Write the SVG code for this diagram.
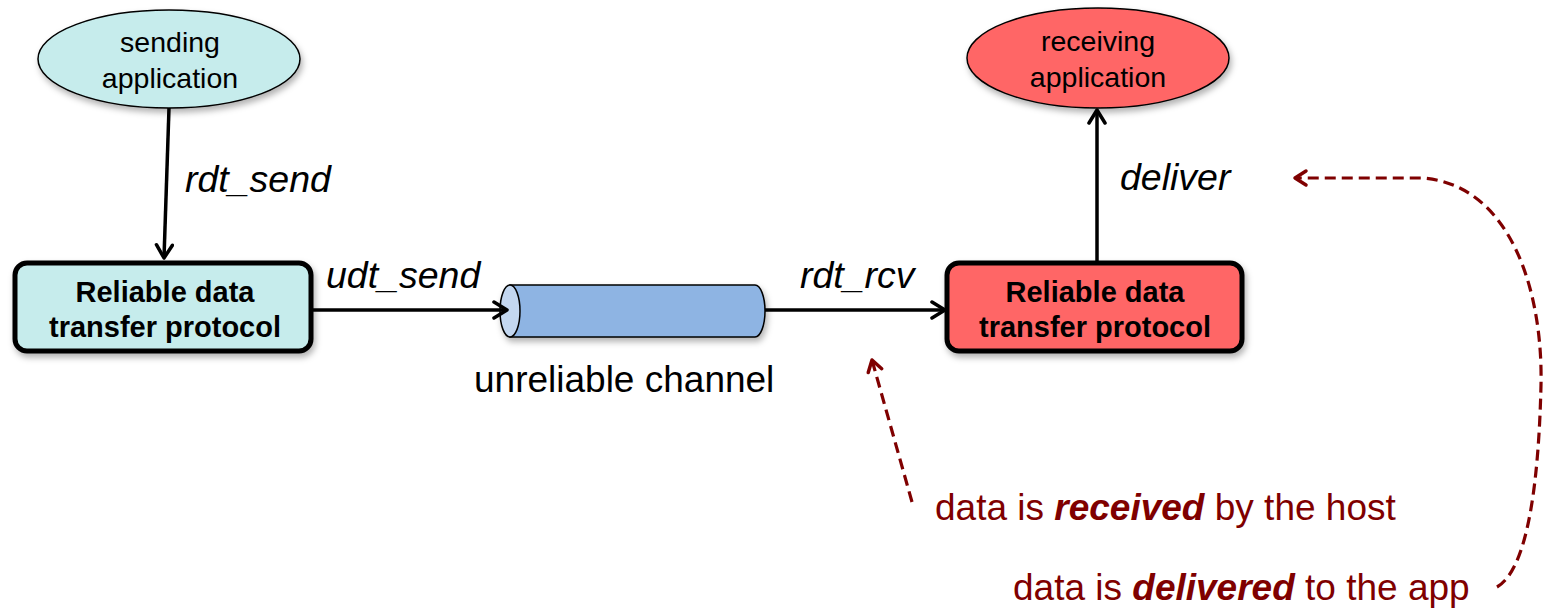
<svg xmlns="http://www.w3.org/2000/svg" width="1543" height="611" viewBox="0 0 1543 611">
  <style>
    text { font-family: "Liberation Sans", Arial, sans-serif; }
    .app { font-size: 28.5px; fill: #000; text-anchor: middle; }
    .proto { font-size: 29px; font-weight: bold; fill: #000; text-anchor: middle; }
    .call { font-size: 37.5px; font-style: italic; fill: #000; }
    .plain { font-size: 37px; fill: #000; }
    .note { font-size: 37px; fill: #7f0000; }
    .note tspan.em { font-weight: bold; font-style: italic; }
    .edge { fill: none; stroke: #000; stroke-width: 3.5; marker-end: url(#arrow); }
    .hint { fill: none; stroke: #7f0000; stroke-width: 3.2; stroke-dasharray: 11 6; marker-end: url(#arrowRed); }
    .box { stroke: #000; stroke-width: 5; }
    .oval { stroke: #000; stroke-width: 1.5; }
  </style>
  <defs>
    <marker id="arrow" viewBox="0 0 20 20" refX="17" refY="10" markerWidth="20" markerHeight="20" markerUnits="userSpaceOnUse" orient="auto">
      <path d="M4,2 L17,10 L4,18" fill="none" stroke="#000" stroke-width="3.5" stroke-linecap="round" stroke-linejoin="round"/>
    </marker>
    <marker id="arrowRed" viewBox="0 0 20 20" refX="16" refY="10" markerWidth="20" markerHeight="20" markerUnits="userSpaceOnUse" orient="auto">
      <path d="M5,3 L16,10 L5,17" fill="none" stroke="#7f0000" stroke-width="3.5" stroke-linecap="round" stroke-linejoin="round"/>
    </marker>
    <filter id="shadow" x="-10%" y="-10%" width="125%" height="135%">
      <feDropShadow dx="2" dy="4" stdDeviation="3" flood-color="#000" flood-opacity="0.3"/>
    </filter>
  </defs>

  <g id="sending-app">
    <ellipse class="oval" cx="169" cy="59" rx="131" ry="49" fill="#c6ecec" filter="url(#shadow)"/>
    <text class="app" x="170" y="52">sending</text>
    <text class="app" x="170" y="88">application</text>
  </g>

  <g id="receiving-app">
    <ellipse class="oval" cx="1098" cy="58" rx="131" ry="50" fill="#ff6666" filter="url(#shadow)"/>
    <text class="app" x="1098" y="51">receiving</text>
    <text class="app" x="1098" y="87">application</text>
  </g>

  <g id="sender-rdt">
    <rect class="box" x="15" y="263" width="296" height="88" rx="12" fill="#c6ecec" filter="url(#shadow)"/>
    <text class="proto" x="165" y="302">Reliable data</text>
    <text class="proto" x="165" y="337">transfer protocol</text>
  </g>

  <g id="receiver-rdt">
    <rect class="box" x="947" y="263" width="295" height="88" rx="12" fill="#ff6666" filter="url(#shadow)"/>
    <text class="proto" x="1095" y="302">Reliable data</text>
    <text class="proto" x="1095" y="337">transfer protocol</text>
  </g>

  <g id="channel">
    <g filter="url(#shadow)">
      <path d="M510,285 L755,285 A10,26 0 0 1 755,337 L510,337 Z" fill="#8eb4e3" stroke="#000" stroke-width="1.5"/>
      <ellipse cx="510" cy="311" rx="10" ry="26" fill="#c3d7f0" stroke="#000" stroke-width="1.5"/>
    </g>
    <text class="plain" x="474" y="392">unreliable channel</text>
  </g>

  <g id="connectors">
    <path class="edge" d="M169,108 L164,258"/>
    <path class="edge" d="M311,310 L507,310"/>
    <path class="edge" d="M765,310 L945,310"/>
    <path class="edge" d="M1097,262 L1097,110"/>
    <path class="hint" d="M912,502 L872,360"/>
    <path class="hint" d="M1497,587 C1530,568 1539,470 1541,385 C1543,290 1510,185 1423,178 L1295,178"/>
  </g>

  <g id="labels">
    <text class="call" x="185" y="192">rdt_send</text>
    <text class="call" x="326" y="288">udt_send</text>
    <text class="call" x="800" y="288">rdt_rcv</text>
    <text class="call" x="1120" y="190">deliver</text>
    <text class="note" x="935" y="520">data is <tspan class="em">received</tspan> by the host</text>
    <text class="note" x="1013" y="600">data is <tspan class="em">delivered</tspan> to the app</text>
  </g>
</svg>
